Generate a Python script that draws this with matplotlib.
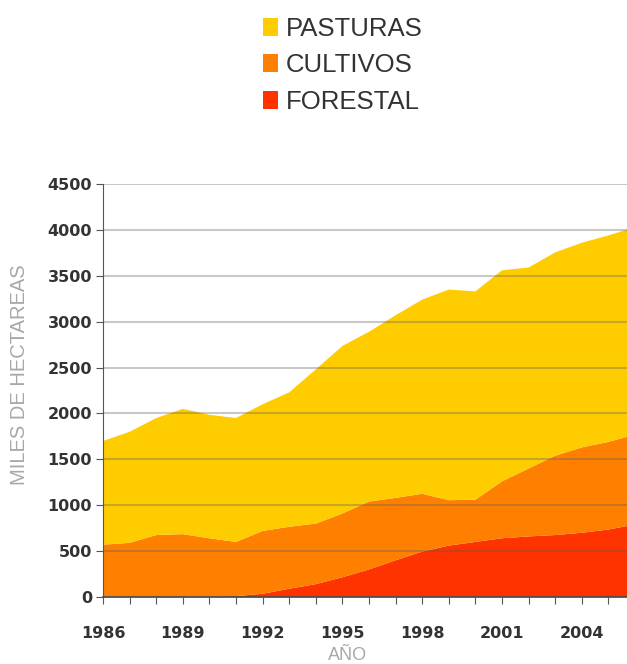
import matplotlib.pyplot as plt

# superficie (miles de hectareas)
years = list(range(1986, 2007))
forestal = [0, 0, 0, 0, 5, 10, 35, 90, 140, 215, 300, 400, 495, 560, 600,
            640, 660, 675, 700, 735, 790]
cultivos = [570, 590, 675, 685, 635, 590, 685, 675, 660, 695, 740, 680, 630,
            495, 460, 620, 740, 865, 930, 955, 980]
pasturas = [1130, 1210, 1275, 1365, 1345, 1350, 1380, 1465, 1680, 1825, 1850,
            1990, 2115, 2295, 2270, 2300, 2190, 2215, 2230, 2250, 2260]

series_names = ['FORESTAL', 'CULTIVOS', 'PASTURAS']
colors = ['#FF3300', '#FF8000', '#FFCC00']
yticks = list(range(0, 5000, 500))
label_years = [y for y in years if (y - 1986) % 3 == 0]

W, H = 627, 664
fig = plt.figure(figsize=(W / 100, H / 100), dpi=100)
fig.patch.set_facecolor('white')
ax = fig.add_axes([103 / W, 67 / H, 1 - 103 / W, (597 - 184) / H])

ax.stackplot(years, forestal, cultivos, pasturas, colors=colors,
             labels=series_names, linewidth=0)

ax.set_xlim(1986, 2005.7)
ax.set_ylim(0, 4500)
ax.set_yticks(yticks)
ax.set_xticks(years[:-1])
ax.set_xticklabels([str(y) if y in label_years else '' for y in years[:-1]])

# grid over the areas, like the original
ax.set_axisbelow(False)
ax.yaxis.grid(True, color='#5a5a5a', alpha=0.33, linewidth=1.5)
ax.xaxis.grid(False)

for s in ['top', 'right']:
    ax.spines[s].set_visible(False)
ax.spines['left'].set_color('#555555')
ax.spines['bottom'].set_color('#444444')
ax.spines['bottom'].set_linewidth(1.2)

ax.tick_params(axis='y', direction='out', length=5, pad=3, color='#555555')
ax.tick_params(axis='x', direction='out', length=5, pad=16, color='#555555')
for lbl in ax.get_xticklabels() + ax.get_yticklabels():
    lbl.set_fontfamily('DejaVu Sans')
    lbl.set_fontweight('bold')
    lbl.set_fontsize(11.5)
    lbl.set_color('#333333')

fig.text(20 / W, 1 - 375 / H, 'MILES DE HECTAREAS', rotation=90,
         ha='center', va='center', fontsize=14.5, color='#a8a8a8',
         family='Liberation Sans')
fig.text(348 / W, 1 - 656 / H, 'AÑO', ha='center', va='center',
         fontsize=13, color='#a8a8a8', family='Liberation Sans')

handles, labels = ax.get_legend_handles_labels()
fig.legend(handles[::-1], labels[::-1], loc='upper left',
           bbox_to_anchor=(263 / W, 1 - 17 / H), frameon=False,
           prop={'family': 'Liberation Sans', 'size': 18.5},
           labelcolor='#333333', handlelength=0.6, handleheight=0.7,
           handletextpad=0.3, labelspacing=0.48, borderpad=0,
           borderaxespad=0)

fig.savefig('out.png', dpi=100, facecolor='white')
